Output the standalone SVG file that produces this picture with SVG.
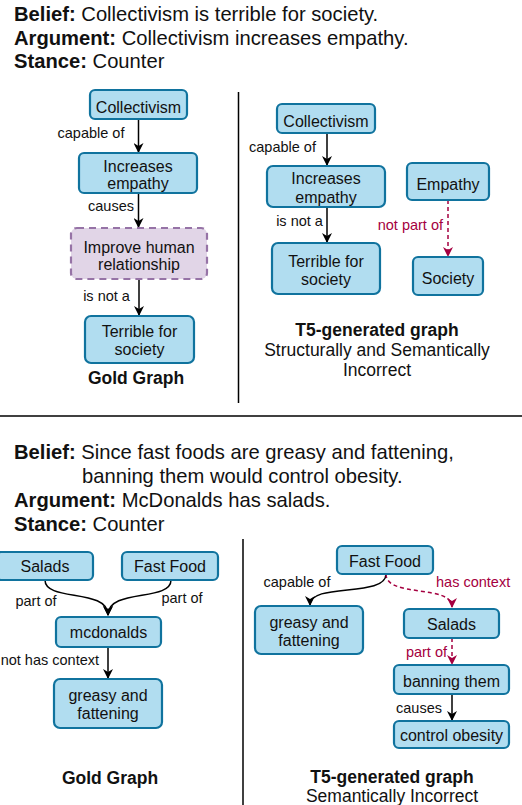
<svg xmlns="http://www.w3.org/2000/svg" width="522" height="805" viewBox="0 0 522 805">
<style>
text{font-family:"Liberation Sans",Arial,sans-serif;fill:#111}
.hd{font-size:20.2px}
.b{font-weight:bold}
.nt{font-size:16px;text-anchor:middle}
.el{font-size:14.5px}
.red{fill:#a50040}
.cap{font-size:17.5px;text-anchor:middle}
.node{fill:#b1ddf0;stroke:#10739e;stroke-width:2.2}
.hyp{fill:#e1d5e7;stroke:#9673a6;stroke-width:2.2;stroke-dasharray:7 5}
.e{fill:none;stroke:#000;stroke-width:1.5}
.er{fill:none;stroke:#a50040;stroke-width:1.5;stroke-dasharray:4 3}
.div{stroke:#000;stroke-width:1.5}
</style>
<defs>
<marker id="ab" viewBox="0 0 10 10" refX="9" refY="5" markerWidth="10" markerHeight="10" markerUnits="userSpaceOnUse" orient="auto"><path d="M0,0 L10,5 L0,10 L3,5 z" fill="#000"/></marker>
<marker id="ar" viewBox="0 0 10 10" refX="9" refY="5" markerWidth="10" markerHeight="10" markerUnits="userSpaceOnUse" orient="auto"><path d="M0,0 L10,5 L0,10 L3,5 z" fill="#a50040"/></marker>
</defs>

<g id="header1">
<text class="hd" x="14" y="21"><tspan class="b">Belief:</tspan> Collectivism is terrible for society.</text>
<text class="hd" x="14" y="45"><tspan class="b">Argument:</tspan> Collectivism increases empathy.</text>
<text class="hd" x="14" y="68"><tspan class="b">Stance:</tspan> Counter</text>
</g>

<g id="dividers">
<line class="div" x1="238.5" y1="92" x2="238.5" y2="403"/>
<line class="div" x1="0" y1="416" x2="522" y2="416"/>
<line class="div" x1="243" y1="539" x2="243" y2="805"/>
</g>

<g id="connectors">
<path class="e" d="M138.5,119 V152" marker-end="url(#ab)"/>
<path class="e" d="M138.5,193 V227" marker-end="url(#ab)"/>
<path class="e" d="M139,279 V315" marker-end="url(#ab)"/>
<path class="e" d="M327,133 V165" marker-end="url(#ab)"/>
<path class="e" d="M327,207 V242" marker-end="url(#ab)"/>
<path class="er" d="M448,200 V256" marker-end="url(#ar)"/>
<path class="e" d="M45,580 C45,602 108,588 108,615" marker-end="url(#ab)"/>
<path class="e" d="M171,580 C171,602 108,588 108,615" marker-end="url(#ab)"/>
<path class="e" d="M108,647 V678" marker-end="url(#ab)"/>
<path class="e" d="M386,574 C386,598 310,582 310,605" marker-end="url(#ab)"/>
<path class="er" d="M386,574 C386,598 452,584 452,607" marker-end="url(#ar)"/>
<path class="er" d="M452,638 V664" marker-end="url(#ar)"/>
<path class="e" d="M452,694 V720" marker-end="url(#ab)"/>
</g>

<g id="edge-labels">
<text class="el" x="91" y="138" text-anchor="middle">capable of</text>
<text class="el" x="111" y="211" text-anchor="middle">causes</text>
<text class="el" x="106.5" y="301" text-anchor="middle">is not a</text>
<text class="el" x="282.5" y="152" text-anchor="middle">capable of</text>
<text class="el" x="299.5" y="226" text-anchor="middle">is not a</text>
<text class="el red" x="443" y="230" text-anchor="end">not part of</text>
<text class="el" x="36" y="606" text-anchor="middle">part of</text>
<text class="el" x="182" y="603" text-anchor="middle">part of</text>
<text class="el" x="99" y="665" text-anchor="end">not has context</text>
<text class="el" x="297" y="587" text-anchor="middle">capable of</text>
<text class="el red" x="436" y="587">has context</text>
<text class="el red" x="447" y="657" text-anchor="end">part of</text>
<text class="el" x="442" y="713" text-anchor="end">causes</text>
</g>

<g id="g1-collectivism"><rect class="node" x="90" y="90" width="97" height="29" rx="5"/><text class="nt" x="138.5" y="113">Collectivism</text></g>
<g id="g1-increases"><rect class="node" x="79" y="153" width="118" height="40" rx="5"/><text class="nt" x="138" y="172">Increases</text><text class="nt" x="138" y="189">empathy</text></g>
<g id="g1-improve"><rect class="hyp" x="71" y="228" width="136" height="51" rx="6"/><text class="nt" x="139" y="253">Improve human</text><text class="nt" x="139" y="270">relationship</text></g>
<g id="g1-terrible"><rect class="node" x="85" y="316" width="109" height="47" rx="6"/><text class="nt" x="139.5" y="337">Terrible for</text><text class="nt" x="139.5" y="355">society</text></g>
<g id="g1-caption"><text class="cap b" x="136" y="384">Gold Graph</text></g>

<g id="t1-collectivism"><rect class="node" x="277" y="104" width="98" height="29" rx="5"/><text class="nt" x="326" y="127">Collectivism</text></g>
<g id="t1-increases"><rect class="node" x="267" y="166" width="118" height="41" rx="6"/><text class="nt" x="326" y="184">Increases</text><text class="nt" x="326" y="203">empathy</text></g>
<g id="t1-terrible"><rect class="node" x="272" y="243" width="108" height="51" rx="6"/><text class="nt" x="326" y="267">Terrible for</text><text class="nt" x="326" y="285">society</text></g>
<g id="t1-empathy"><rect class="node" x="407" y="163" width="82" height="37" rx="5"/><text class="nt" x="448" y="190">Empathy</text></g>
<g id="t1-society"><rect class="node" x="413" y="257" width="70" height="38" rx="5"/><text class="nt" x="448" y="284">Society</text></g>
<g id="t1-caption"><text class="cap b" x="377" y="336">T5-generated graph</text><text class="cap" x="377" y="356">Structurally and Semantically</text><text class="cap" x="377" y="376">Incorrect</text></g>

<g id="header2">
<text class="hd" x="14" y="459"><tspan class="b">Belief:</tspan> Since fast foods are greasy and fattening,</text>
<text class="hd" x="82" y="483">banning them would control obesity.</text>
<text class="hd" x="14" y="507"><tspan class="b">Argument:</tspan> McDonalds has salads.</text>
<text class="hd" x="14" y="531"><tspan class="b">Stance:</tspan> Counter</text>
</g>

<g id="g2-salads"><rect class="node" x="-4" y="552" width="97" height="28" rx="5"/><text class="nt" x="45" y="572">Salads</text></g>
<g id="g2-fastfood"><rect class="node" x="122" y="552" width="96" height="28" rx="5"/><text class="nt" x="170" y="572">Fast Food</text></g>
<g id="g2-mcdonalds"><rect class="node" x="56" y="617" width="105" height="30" rx="5"/><text class="nt" x="108.5" y="638">mcdonalds</text></g>
<g id="g2-greasy"><rect class="node" x="54" y="679" width="108" height="49" rx="6"/><text class="nt" x="108" y="701">greasy and</text><text class="nt" x="108" y="719">fattening</text></g>
<g id="g2-caption"><text class="cap b" x="110" y="784">Gold Graph</text></g>

<g id="t2-fastfood"><rect class="node" x="337" y="546" width="96" height="28" rx="5"/><text class="nt" x="385" y="567">Fast Food</text></g>
<g id="t2-greasy"><rect class="node" x="255" y="606" width="108" height="48" rx="6"/><text class="nt" x="309" y="628">greasy and</text><text class="nt" x="309" y="646">fattening</text></g>
<g id="t2-salads"><rect class="node" x="404" y="609" width="95" height="29" rx="5"/><text class="nt" x="451.5" y="630">Salads</text></g>
<g id="t2-banning"><rect class="node" x="394" y="665" width="115" height="29" rx="5"/><text class="nt" x="451.5" y="687">banning them</text></g>
<g id="t2-control"><rect class="node" x="394" y="721" width="115" height="27" rx="5"/><text class="nt" x="451.5" y="741">control obesity</text></g>
<g id="t2-caption"><text class="cap b" x="392" y="783">T5-generated graph</text><text class="cap" x="392" y="802">Semantically Incorrect</text></g>
</svg>
